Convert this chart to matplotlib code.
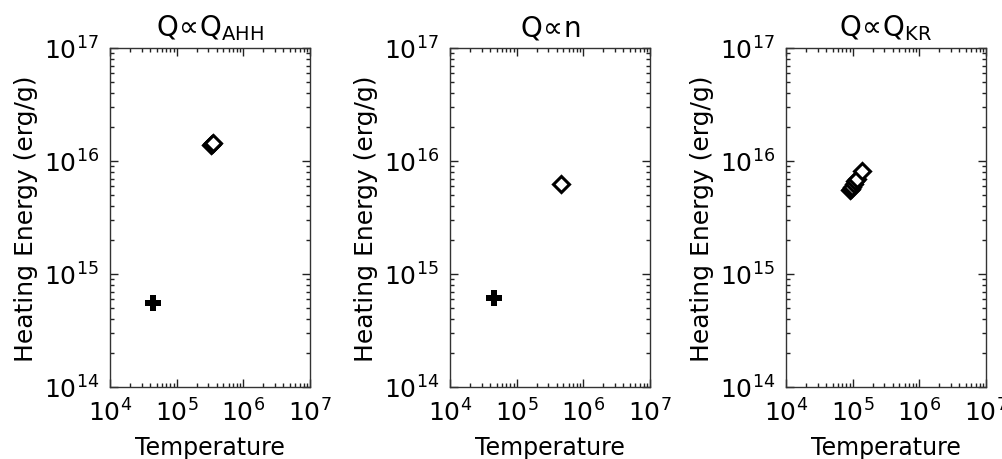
import matplotlib
matplotlib.use("Agg")
import matplotlib.pyplot as plt
from matplotlib.ticker import LogLocator, NullFormatter

plt.rcParams['font.family'] = ['DejaVu Sans']
plt.rcParams['mathtext.fontset'] = 'dejavusans'

# heating energy vs temperature for three heating prescriptions
titles = [r'$\mathrm{Q\!\propto\!Q_{AHH}}$', r'$\mathrm{Q\!\propto\!n}$', r'$\mathrm{Q\!\propto\!Q_{KR}}$']

plus_temp = [[4.4e4], [4.6e4], []]
plus_energy = [[5.5e14], [6.1e14], []]

diamond_temp = [
    [3.3e5, 3.4e5, 3.5e5],
    [4.6e5],
    [9.0e4, 9.4e4, 9.8e4, 1.03e5, 1.08e5, 1.15e5, 1.37e5],
]
diamond_energy = [
    [1.38e16, 1.42e16, 1.45e16],
    [6.2e15],
    [5.5e15, 5.7e15, 5.9e15, 6.2e15, 6.6e15, 7.0e15, 8.2e15],
]

xlim = (1e4, 1e7)
ylim = (1e14, 1e17)

W, H = 1003, 460
lefts = [110, 450, 786]
ax_w, ax_top, ax_bot = 200, 49, 388

fig = plt.figure(figsize=(W / 100, H / 100), dpi=100)

for i in range(3):
    ax = fig.add_axes([lefts[i] / W, (H - ax_bot) / H, ax_w / W, (ax_bot - ax_top) / H])
    ax.set_xscale('log')
    ax.set_yscale('log')
    ax.set_xlim(*xlim)
    ax.set_ylim(*ylim)

    if plus_temp[i]:
        ax.plot(plus_temp[i], plus_energy[i], linestyle='none', marker='P',
                markersize=11, color='black', markeredgewidth=0)
    ax.plot(diamond_temp[i], diamond_energy[i], linestyle='none', marker='D',
            markersize=8, markerfacecolor='white', markeredgecolor='black',
            markeredgewidth=2.2)

    ax.xaxis.set_major_locator(LogLocator(base=10, numticks=10))
    ax.yaxis.set_major_locator(LogLocator(base=10, numticks=10))
    ax.xaxis.set_minor_locator(LogLocator(base=10, subs=range(2, 10), numticks=20))
    ax.yaxis.set_minor_locator(LogLocator(base=10, subs=range(2, 10), numticks=20))
    ax.xaxis.set_minor_formatter(NullFormatter())
    ax.yaxis.set_minor_formatter(NullFormatter())

    ax.tick_params(which='both', direction='in', top=True, right=True,
                   labelsize=18, width=1.0, color='#222222')
    ax.tick_params(which='major', length=6, pad=8)
    ax.tick_params(which='minor', length=3)
    for sp in ax.spines.values():
        sp.set_linewidth(1.0)
        sp.set_color('#333333')

    ax.set_title(titles[i], fontsize=20, pad=9)
    ax.set_xlabel('Temperature', fontsize=17, labelpad=7)
    ax.set_ylabel('Heating Energy (erg/g)', fontsize=18, labelpad=4)

fig.savefig('out.png', dpi=100)
